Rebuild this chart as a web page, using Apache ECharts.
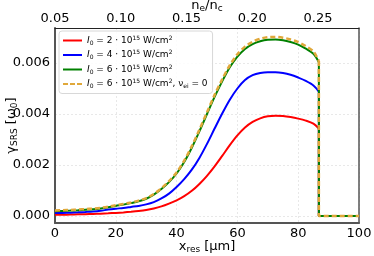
<!DOCTYPE html>
<html><head><meta charset="utf-8">
<script src="https://cdn.jsdelivr.net/npm/echarts@6/dist/echarts.min.js"></script>
<style>html,body{margin:0;padding:0;background:#fff}#c{width:374px;height:256px}</style>
</head><body><div id="c"></div>
<script>
const xRes = [0,2.5,5,7.5,10,12.5,15,17.5,20,22.5,25,27.5,30,32.5,35,37.5,40,42.5,45,47.5,50,52.5,55,57.5,60,62.5,65,67.5,70,72.5,75,77.5,80,82.5,85,86.8];
const red = [0.00005,0.000055,0.00006,0.000068,0.000075,0.000085,0.000097,0.00011,0.000125,0.000145,0.00017,0.0002,0.00024,0.0003,0.00038,0.00049,0.00062,0.00078,0.00099,0.00126,0.00158,0.00195,0.00236,0.00278,0.00316,0.00347,0.00369,0.00383,0.00391,0.00393,0.00392,0.00388,0.00382,0.00374,0.00362,0.00343];
const blue = [0.000117,0.000125,0.000135,0.000148,0.000163,0.00018,0.00021,0.000255,0.00029,0.00032,0.00036,0.0004,0.00046,0.00055,0.00069,0.00088,0.00114,0.00145,0.00182,0.00228,0.00283,0.00343,0.00402,0.00456,0.005,0.00533,0.00552,0.00561,0.00564,0.00564,0.00561,0.00554,0.00543,0.0053,0.00512,0.00488];
const green = [0.000195,0.000205,0.000215,0.00023,0.00025,0.00027,0.0003,0.000345,0.0004,0.00045,0.00051,0.00058,0.00068,0.00084,0.00106,0.00133,0.00167,0.00212,0.00268,0.00332,0.004,0.00467,0.00528,0.00583,0.00625,0.00655,0.00674,0.00685,0.00691,0.00692,0.00689,0.00682,0.00672,0.00656,0.00636,0.00603];
const orange = [0.00022,0.00023,0.00024,0.000255,0.000275,0.000295,0.000325,0.00037,0.000425,0.000475,0.000535,0.000605,0.000705,0.000865,0.00109,0.00137,0.00171,0.00217,0.00274,0.00339,0.00407,0.00475,0.00536,0.00591,0.00634,0.00664,0.00683,0.00695,0.00701,0.00702,0.00699,0.00692,0.00682,0.00666,0.00645,0.00608];
const dropX = [86.8, 86.8, 100];
const tailY = [0, 0];
const seriesNames = ['r','b','g','o'];
const colors = {r:'#ff0000', b:'#0000ff', g:'#008000', o:'#e0a83a'};
const legendTexts = {
  r: '{i|I}{sub|0}{t| = 2 · 10}{sup|15}{t| W/cm}{sup|2}',
  b: '{i|I}{sub|0}{t| = 4 · 10}{sup|15}{t| W/cm}{sup|2}',
  g: '{i|I}{sub|0}{t| = 6 · 10}{sup|15}{t| W/cm}{sup|2}',
  o: '{i|I}{sub|0}{t| = 6 · 10}{sup|15}{t| W/cm}{sup|2}{t|, ν}{sub|ei}{t| = 0}'
};

function main(ys){ return xRes.map((x,i)=>[x, ys[i]]); }
function drop(ys){ const last = ys[ys.length-1]; return [[dropX[0], last],[dropX[1], tailY[0]],[dropX[2], tailY[1]]]; }
const F = 'DejaVu Sans';
const chart = echarts.init(document.getElementById('c'), null, {renderer:'canvas'});
const gridLine = {show:true, lineStyle:{color:'#e3e3e3', type:[2,2], width:0.8}};
const solidIcon = 'path://M0,0h19v2h-19z';
const dashIcon = 'path://M0,0h5v2h-5zM7,0h5v2h-5zM14,0h5v2h-5z';
const nameRich = {t:{fontSize:13, fontFamily:F, color:'#000'}, s:{fontSize:9, fontFamily:F, color:'#000', verticalAlign:'bottom', padding:[6,0,0,0]}};
function mk(key, ys, smooth){
  const isO = key==='o';
  return {name:key, type:'line', data: smooth ? main(ys) : drop(ys), showSymbol:false, symbol:'none', smooth: smooth ? 0.3 : false,
    lineStyle:{color:colors[key], width: isO ? 2.5 : 2, type: isO ? [5,3] : 'solid'}, itemStyle:{color:colors[key]}};
}
chart.setOption({
  animation:false,
  textStyle:{fontFamily:F},
  grid:{left:55, right:15, top:28, bottom:33, containLabel:false, outerBoundsMode:'none'},
  legend:{
    left:59, top:31, orient:'vertical', itemWidth:19, itemHeight:2, itemGap:3.5,
    padding:[4,5,4,4], backgroundColor:'rgba(255,255,255,0.85)', borderColor:'#d8d8d8', borderWidth:1, borderRadius:3,
    data:seriesNames.map(n=>({name:n, icon: n==='o' ? dashIcon : solidIcon, itemStyle:{color:colors[n]}})),
    formatter: n => legendTexts[n],
    textStyle:{fontFamily:F, fontSize:9, color:'#000', lineHeight:11,
      rich:{
        i:{fontStyle:'italic', fontSize:9, fontFamily:F, lineHeight:11},
        t:{fontSize:9, fontFamily:F, lineHeight:11},
        sub:{fontSize:6, verticalAlign:'bottom', lineHeight:6, fontFamily:F},
        sup:{fontSize:6, verticalAlign:'top', lineHeight:6, fontFamily:F}
      }}
  },
  xAxis:[
    {type:'value', min:0, max:100, interval:20, position:'bottom',
     axisLine:{show:true, onZero:false, lineStyle:{color:'#555', width:2}},
     axisTick:{show:false},
     axisLabel:{fontSize:13, color:'#000', margin:4, fontFamily:F},
     splitLine:gridLine,
     name:'{t|x}{s|res}{t| [μm]}', nameLocation:'middle', nameGap:16, nameMoveOverlap:false,
     nameTextStyle:{rich:nameRich}
    },
    {type:'value', min:0.05, max:0.2812, interval:0.05, position:'top',
     axisLine:{show:true, onZero:false, lineStyle:{color:'#222', width:1}},
     axisTick:{show:false},
     axisLabel:{fontSize:13, color:'#000', margin:3, fontFamily:F, showMaxLabel:false, formatter:v=>v.toFixed(2)},
     splitLine:{show:false},
     name:'{t|n}{s|e}{t|/n}{s|c}', nameLocation:'middle', nameGap:15, nameMoveOverlap:false,
     nameTextStyle:{rich:nameRich}
    }
  ],
  yAxis:[
    {type:'value', min:-0.00027, max:0.00737, splitNumber:4,
     axisLine:{show:true, onZero:false, lineStyle:{color:'#555', width:2}},
     axisTick:{show:false},
     axisLabel:{fontSize:13, color:'#000', margin:5, fontFamily:F, showMinLabel:false, showMaxLabel:false, formatter:v=>v.toFixed(3)},
     splitLine:gridLine,
     name:'{t|γ}{s|SRS}{t| [ω}{s|0}{t|]}', nameLocation:'middle', nameGap:36, nameRotate:90, nameMoveOverlap:false,
     nameTextStyle:{rich:nameRich}
    },
    {type:'value', min:-0.00027, max:0.00737, position:'right',
     axisLine:{show:true, onZero:false, lineStyle:{color:'#555', width:1.5}},
     axisTick:{show:false}, axisLabel:{show:false}, splitLine:{show:false}}
  ],
  series:[
    mk('r', red, true), mk('r', red, false),
    mk('b', blue, true), mk('b', blue, false),
    mk('g', green, true), mk('g', green, false),
    mk('o', orange, true), mk('o', orange, false)
  ]
});
</script></body></html>
